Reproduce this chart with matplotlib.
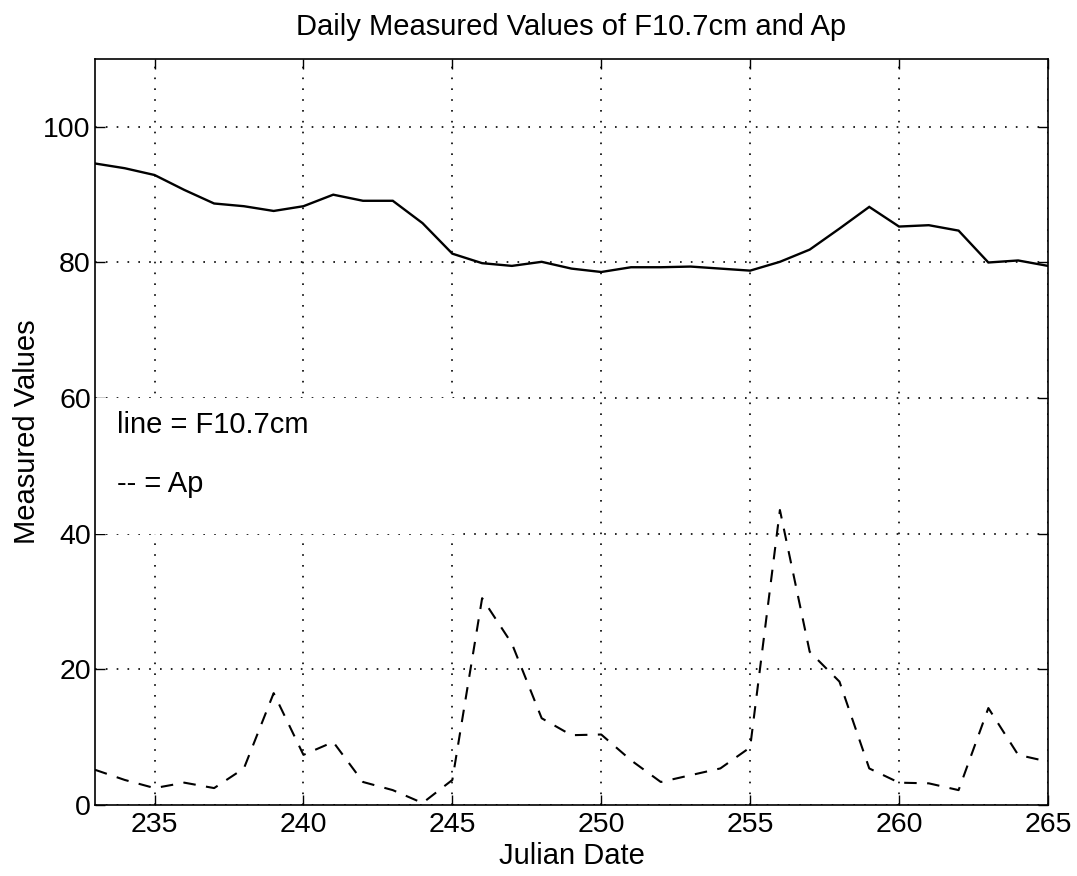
import matplotlib
matplotlib.use("Agg")
import matplotlib.pyplot as plt
from matplotlib.patches import Rectangle

plt.rcParams['font.family'] = ['Liberation Sans', 'DejaVu Sans']

days = list(range(233, 266))
f107 = [94.6, 93.9, 92.9, 90.7, 88.7, 88.3, 87.6, 88.3, 90.0, 89.1, 89.1,
        85.8, 81.3, 79.9, 79.5, 80.1, 79.1, 78.6, 79.3, 79.3, 79.4, 79.1,
        78.8, 80.1, 81.9, 85.0, 88.2, 85.3, 85.5, 84.7, 80.0, 80.3, 79.5]
ap = [5.2, 3.7, 2.5, 3.3, 2.5, 5.4, 16.5, 7.4, 9.3, 3.4, 2.2, 0.3, 3.7,
      30.5, 23.8, 12.8, 10.3, 10.4, 6.6, 3.4, 4.4, 5.4, 8.5, 43.5, 22.6,
      18.2, 5.4, 3.3, 3.2, 2.2, 14.3, 7.4, 6.4]
xticks = [235, 240, 245, 250, 255, 260, 265]
yticks = [0, 20, 40, 60, 80, 100]

fig = plt.figure(figsize=(10.77, 8.76), dpi=100)
ax = fig.add_axes([0.0882, 0.081, 0.8848, 0.8516])

ax.plot(days, f107, color='black', lw=1.7, solid_joinstyle='miter')
ax.plot(days, ap, color='black', lw=1.5, linestyle=(0, (6, 5)))

ax.set_xlim(233, 265)
ax.set_ylim(0, 110)
ax.set_xticks(xticks)
ax.set_yticks(yticks)
ax.grid(True, color='black', linestyle=(0, (1, 5.5)), lw=1.2)

# white box behind the annotation text (hides the grid there)
ax.add_patch(Rectangle((233, 40), 12.15, 20, facecolor='white', edgecolor='none', zorder=1.8))
ax.text(233.75, 56, 'line = F10.7cm', fontsize=21, va='center', ha='left', zorder=3)
ax.text(233.75, 47.3, '-- = Ap', fontsize=21, va='center', ha='left', zorder=3)

ax.tick_params(direction='in', length=7, width=1, top=True, right=True, labelsize=20.5)
ax.tick_params(axis='x', pad=5)
ax.tick_params(axis='y', pad=3)
for s in ax.spines.values():
    s.set_linewidth(1.2)

ax.set_title('Daily Measured Values of F10.7cm and Ap', fontsize=21, pad=17)
ax.set_xlabel('Julian Date', fontsize=21, labelpad=3)
ax.set_ylabel('Measured Values', fontsize=21, labelpad=2)

fig.savefig('out.png', dpi=100)
